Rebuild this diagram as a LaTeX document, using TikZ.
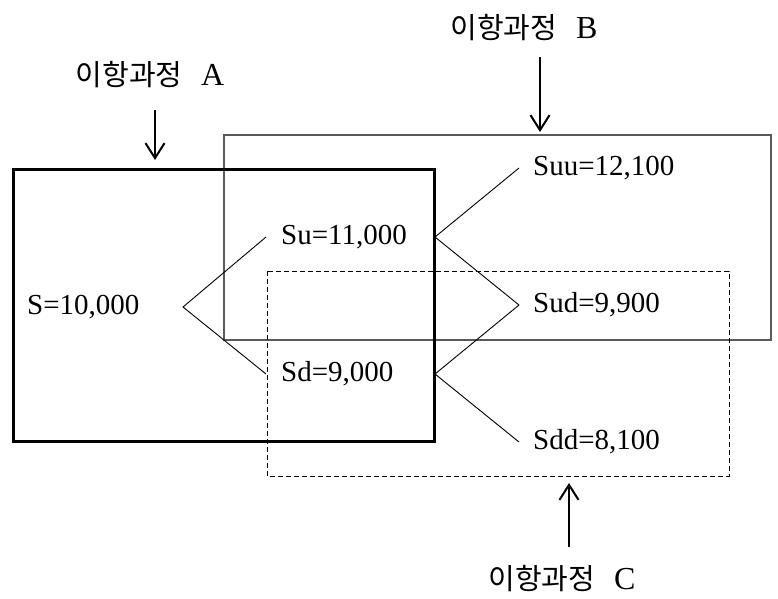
\documentclass[tikz,border=0pt]{standalone}
\usepackage{fontspec}
\setmainfont{Liberation Serif}
\newfontfamily\kr{Noto Sans CJK KR}
\usetikzlibrary{arrows.meta}
\begin{document}
\begin{tikzpicture}[x=1pt,y=-1pt,
  val/.style={anchor=west,inner sep=0pt,font=\fontsize{29}{34}\selectfont},
  lab/.style={inner sep=0pt,font=\fontsize{29}{34}\selectfont},
  branch/.style={line width=0.9pt},
  pointer/.style={line width=2pt,-{Straight Barb[length=15pt,width=19pt,line width=2pt]}},
  boxA/.style={line width=3pt},
  boxB/.style={line width=1.3pt,draw=black!65},
  boxC/.style={line width=0.9pt,dash pattern=on 5pt off 3pt}]
\useasboundingbox (0,0) rectangle (778,598);
% boxes
\draw[boxB] (224,135) rectangle (771,340);
\draw[boxC] (267,271) rectangle (729,476);
\draw[boxA] (13,169) rectangle (434,441);
% labels
\node[lab] (LA) at (150,75) {{\kr 이항과정}\hspace{0.65em}{\fontsize{32}{34}\selectfont A}};
\node[lab] (LB) at (524,28) {{\kr 이항과정}\hspace{0.65em}{\fontsize{32}{34}\selectfont B}};
\node[lab] (LC) at (562,579) {{\kr 이항과정}\hspace{0.65em}{\fontsize{32}{34}\selectfont C}};
\coordinate (pA1) at (155,110); \coordinate (pA2) at (155,160);
\coordinate (pB1) at (540,57);  \coordinate (pB2) at (540,132);
\coordinate (pC1) at (569,547); \coordinate (pC2) at (569,483);
\draw[pointer] (pA1) -- (pA2);
\draw[pointer] (pB1) -- (pB2);
\draw[pointer] (pC1) -- (pC2);
% tree values
\node[val] (S)   at (27,307)  {S=10,000};
\node[val] (Su)  at (281,237) {Su=11,000};
\node[val] (Sd)  at (281,374) {Sd=9,000};
\node[val] (Suu) at (533,168) {Suu=12,100};
\node[val] (Sud) at (533,305) {Sud=9,900};
\node[val] (Sdd) at (533,442) {Sdd=8,100};
% junction points
\coordinate (S0)   at (183,307);
\coordinate (SuL)  at (266,237);
\coordinate (SuR)  at (435,237);
\coordinate (SdL)  at (266,374);
\coordinate (SdR)  at (435,374);
\coordinate (SuuL) at (519,168);
\coordinate (SudL) at (519,305);
\coordinate (SddL) at (519,442);
\draw[branch] (SuL) -- (S0) -- (SdL);
\draw[branch] (SuuL) -- (SuR) -- (SudL);
\draw[branch] (SudL) -- (SdR) -- (SddL);
\end{tikzpicture}
\end{document}
